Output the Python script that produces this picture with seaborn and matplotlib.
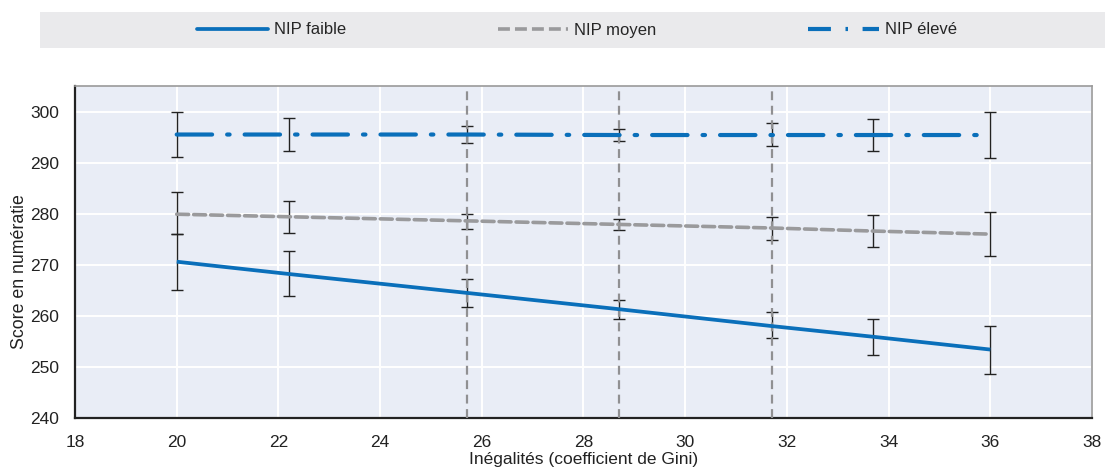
import matplotlib
matplotlib.use("Agg")
import matplotlib.pyplot as plt
import seaborn as sns
import pandas as pd
from matplotlib.patches import Rectangle

# ---- data ----
gini = [20.0, 22.2, 25.7, 28.7, 31.7, 33.7, 36.0]
faible = [270.6, 268.2, 264.5, 261.3, 258.0, 255.9, 253.4]
faible_lo = [265.0, 263.9, 261.8, 259.3, 255.6, 252.3, 248.7]
faible_hi = [276.1, 272.6, 267.2, 263.2, 260.7, 259.4, 258.1]
moyen = [279.9, 279.4, 278.6, 277.9, 277.2, 276.6, 276.0]
moyen_lo = [276.0, 276.3, 277.1, 276.8, 274.9, 273.5, 271.8]
moyen_hi = [284.2, 282.5, 279.9, 278.9, 279.3, 279.8, 280.4]
eleve = [295.5, 295.5, 295.5, 295.4, 295.4, 295.4, 295.4]
eleve_lo = [291.1, 292.2, 293.9, 294.3, 293.2, 292.2, 291.0]
eleve_hi = [300.0, 298.8, 297.2, 296.6, 297.8, 298.6, 299.9]
quartile_lines = [25.7, 28.7, 31.7]
series_names = ["NIP faible", "NIP moyen", "NIP élevé"]
x_ticks = [18, 20, 22, 24, 26, 28, 30, 32, 34, 36, 38]
y_ticks = [240, 250, 260, 270, 280, 290, 300]

sns.set_theme(style="darkgrid")
plt.rcParams["font.family"] = ["Liberation Sans", "DejaVu Sans"]

W, H = 1105, 470
fig = plt.figure(figsize=(W / 100, H / 100), dpi=100)
ax = fig.add_axes([75 / W, 1 - 418 / H, (1092 - 75) / W, (418 - 86) / H])
ax.set_facecolor("#E9EDF6")

df = pd.DataFrame({
    "gini": gini * 3,
    "score": faible + moyen + eleve,
    "groupe": [series_names[0]] * 7 + [series_names[1]] * 7 + [series_names[2]] * 7,
})

blue = "#0A6FBA"
grey = "#9A9A9C"
palette = {series_names[0]: blue, series_names[1]: grey, series_names[2]: blue}
dashes = {series_names[0]: "", series_names[1]: (3.3, 1.4), series_names[2]: (8.5, 3.6, 0.6, 3.6)}
widths = {series_names[0]: 2.7, series_names[1]: 2.6, series_names[2]: 3.0}

# quartile reference lines
for xq in quartile_lines:
    ax.axvline(xq, color="#909092", lw=1.6, ls=(0, (4, 2.5)), zorder=4)

# error bars
for vals, lo, hi in [(faible, faible_lo, faible_hi), (moyen, moyen_lo, moyen_hi), (eleve, eleve_lo, eleve_hi)]:
    yerr = [[v - l for v, l in zip(vals, lo)], [h - v for v, h in zip(vals, hi)]]
    ax.errorbar(gini, vals, yerr=yerr, fmt="none", ecolor="#222222", elinewidth=1.0,
                capsize=4.5, capthick=1.0, zorder=3)

sns.lineplot(data=df, x="gini", y="score", hue="groupe", style="groupe",
             palette=palette, dashes=dashes, ax=ax, legend=False, zorder=5)
for line, name in zip(ax.get_lines()[-3:], series_names):
    line.set_linewidth(widths[name])
    line.set_solid_capstyle("butt")
    line.set_dash_capstyle("round")

ax.set_xlim(18, 38)
ax.set_ylim(240, 305)
ax.set_xticks(x_ticks)
ax.set_yticks(y_ticks)
ax.grid(True, color="white", lw=1.4)
ax.tick_params(axis="x", labelsize=12.5, length=0, pad=12, colors="#222222")
ax.tick_params(axis="y", labelsize=12.5, length=0, pad=11.5, colors="#222222")
ax.set_xlabel("Inégalités (coefficient de Gini)", fontsize=12.5, color="#222222")
ax.set_ylabel("Score en numératie", fontsize=12.8, color="#222222")
ax.xaxis.set_label_coords(0.5, (418 - 452) / 332)
ax.yaxis.set_label_coords((28 - 75) / 1017, (418 - 272) / 332)

for side in ["left", "bottom"]:
    ax.spines[side].set_visible(True)
    ax.spines[side].set_color("#222222")
    ax.spines[side].set_linewidth(1.6)
for side in ["top", "right"]:
    ax.spines[side].set_visible(True)
    ax.spines[side].set_color("#9A9A9A")
    ax.spines[side].set_linewidth(1.2)

# legend band
fig.patches.append(Rectangle((40 / W, 1 - 48 / H), 1 - 40 / W, 36 / H,
                             transform=fig.transFigure, facecolor="#EAEAEC", edgecolor="none", zorder=0))
handles = [plt.Line2D([], [], color=blue, lw=2.7),
           plt.Line2D([], [], color=grey, lw=2.6, dashes=dashes[series_names[1]]),
           plt.Line2D([], [], color=blue, lw=3.0, dashes=(5.5, 3.5, 0.6, 3.5))]
fig.legend(handles, series_names, loc="center", bbox_to_anchor=(577 / W, 1 - 30 / H),
           ncol=3, frameon=False, fontsize=12, handlelength=4.25, handletextpad=0.36,
           columnspacing=9.1)

fig.savefig("out.png", dpi=100)
